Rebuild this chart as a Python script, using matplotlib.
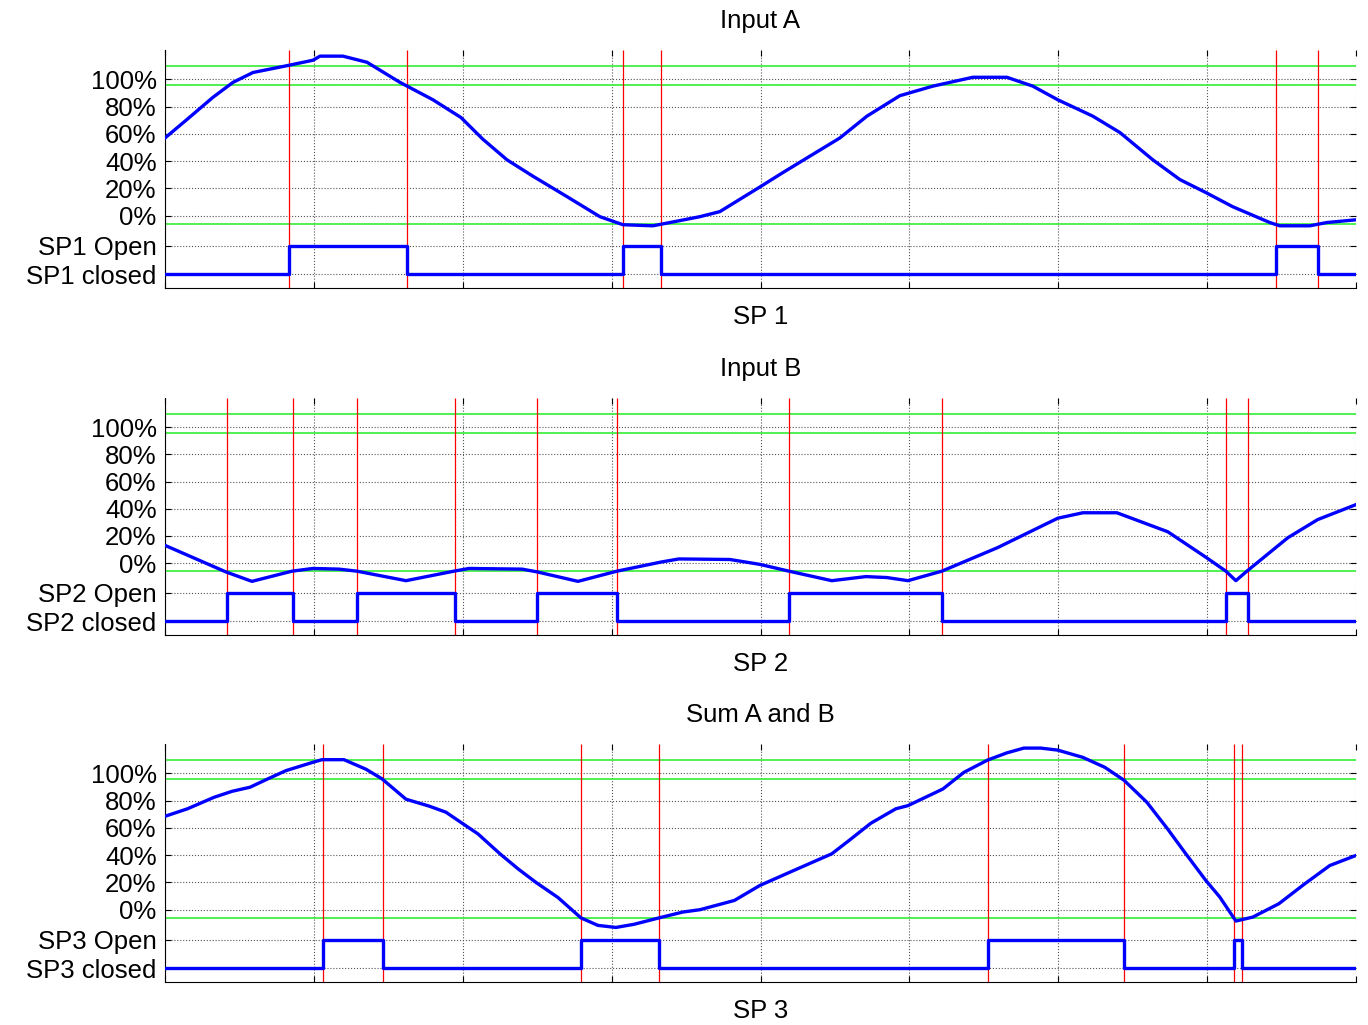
import numpy as np
import matplotlib.pyplot as plt

plt.rcParams['font.family'] = ['Liberation Sans', 'DejaVu Sans']

# curve samples (x in grid units 0..8, value in %)
xa = [0.0, 0.148, 0.322, 0.457, 0.591, 0.819, 0.994, 1.041, 1.195, 1.357, 1.578, 1.800,
      1.988, 2.136, 2.297, 2.471, 2.700, 2.921, 3.076, 3.277, 3.439, 3.593, 3.727, 3.989,
      4.150, 4.352, 4.533, 4.715, 4.936, 5.158, 5.426, 5.655, 5.829, 5.997, 6.232, 6.414,
      6.635, 6.817, 6.991, 7.172, 7.421, 7.488, 7.690, 7.804, 8.0]
ya = [57, 70.6, 86.8, 97.8, 105, 110, 114, 117, 117, 112.5, 97.8, 85,
      72, 56, 41, 29, 14, -0.7, -6.6, -7.4, -4, -0.7, 3, 20.6,
      31.6, 45, 57, 73, 88, 95, 101.5, 101.5, 95, 85, 73, 61,
      41, 26.5, 17, 6.6, -5, -7.4, -7.4, -5, -3]

xb = [0.0, 0.410, 0.584, 0.853, 0.994, 1.169, 1.289, 1.619, 1.941, 2.042, 2.398, 2.498,
      2.774, 3.036, 3.331, 3.452, 3.794, 3.996, 4.191, 4.479, 4.708, 4.849, 4.990, 5.218,
      5.594, 5.997, 6.165, 6.394, 6.736, 6.991, 7.126, 7.193, 7.267, 7.542, 7.743, 8.0]
yb = [13, -6.6, -13.5, -6, -4, -4.5, -6, -13, -6, -4, -4.5, -6.5,
      -13.5, -6, 0.7, 3, 2.6, -1, -6, -13, -10, -10.7, -13, -6,
      11.4, 33, 37, 37, 23, 4.3, -6, -13, -6, 18.6, 32, 43]

xc = [0.0, 0.151, 0.329, 0.450, 0.571, 0.692, 0.813, 0.991, 1.054, 1.202, 1.350, 1.457,
      1.619, 1.773, 1.887, 1.988, 2.102, 2.250, 2.371, 2.492, 2.639, 2.794, 2.908, 3.029,
      3.150, 3.318, 3.479, 3.593, 3.825, 3.996, 4.224, 4.479, 4.594, 4.741, 4.909, 4.990,
      5.225, 5.366, 5.527, 5.655, 5.769, 5.883, 5.997, 6.165, 6.313, 6.441, 6.595, 6.736,
      6.850, 6.991, 7.085, 7.193, 7.307, 7.482, 7.656, 7.824, 8.0]
yc = [68.5, 74, 82.4, 86.8, 89.8, 96, 102, 108, 110, 110, 103, 96,
      81, 76, 71.5, 64, 55.6, 41, 30, 20, 9, -6, -11.5, -13,
      -10.7, -6, -1.7, 0, 6.8, 17.8, 28.8, 41, 50.7, 63.4, 74, 76.3,
      88.5, 100.7, 109.8, 115, 118.5, 118.5, 117, 111.7, 104.4, 95, 78.8, 59,
      42, 21.5, 9.3, -8.3, -5.4, 4.4, 19, 32.4, 39.8]

# switch point open intervals (on, off)
sp1 = [(0.833, 1.625), (3.076, 3.331), (7.461, 7.743)]
sp2 = [(0.416, 0.860), (1.289, 1.948), (2.498, 3.035), (4.191, 5.218), (7.125, 7.273)]
sp3 = [(1.061, 1.464), (2.794, 3.318), (5.527, 6.441), (7.179, 7.233)]

titles = ["Input A", "Input B", "Sum A and B"]
xlabels = ["SP 1", "SP 2", "SP 3"]
open_lvl, closed_lvl = -22, -43
green_lvls = [110, 95.5, -6]
pct_ticks = [0, 20, 40, 60, 80, 100]

fig = plt.figure(figsize=(13.68, 10.25), dpi=100)
left, width = 165/1368, (1356-165)/1368
tops = [50, 398, 744]
bots = [288, 635, 982]
fs = 18.5

panels = [(xa, ya, sp1), (xb, yb, sp2), (xc, yc, sp3)]
for i, (x, y, sp) in enumerate(panels):
    b = 1 - bots[i]/1025
    h = (bots[i]-tops[i])/1025
    ax = fig.add_axes([left, b, width, h])
    ax.set_xlim(0, 8)
    ax.set_ylim(-53, 121.5)

    for g in green_lvls:
        ax.axhline(g, color='#33ee33', lw=1.2, zorder=2)
    edges = [t for pair in sp for t in pair]
    ax.vlines(edges, -53, 121.5, color='red', lw=0.9, zorder=2)

    ax.plot(x, y, color='blue', lw=2.4, zorder=3)

    sx = [0]
    sy = [closed_lvl]
    for on, off in sp:
        sx += [on, on, off, off]
        sy += [closed_lvl, open_lvl, open_lvl, closed_lvl]
    sx.append(8)
    sy.append(closed_lvl)
    ax.plot(sx, sy, color='blue', lw=2.4, zorder=3)

    n = i + 1
    ax.set_yticks([closed_lvl, open_lvl] + pct_ticks)
    ax.set_yticklabels([f"SP{n} closed", f"SP{n} Open"] + [f"{p}%" for p in pct_ticks])
    ax.set_xticks(np.arange(0, 9, 1))
    ax.set_xticklabels([])
    ax.grid(True, color='#555555', ls=':', lw=0.8)
    ax.tick_params(direction='in', top=True, right=True, length=4, labelsize=fs, pad=6)
    ax.spines['top'].set_visible(False)
    ax.spines['right'].set_visible(False)
    ax.set_title(titles[i], fontsize=fs, pad=16)
    ax.set_xlabel(xlabels[i], fontsize=fs, labelpad=6)

plt.savefig("out.png", dpi=100)
